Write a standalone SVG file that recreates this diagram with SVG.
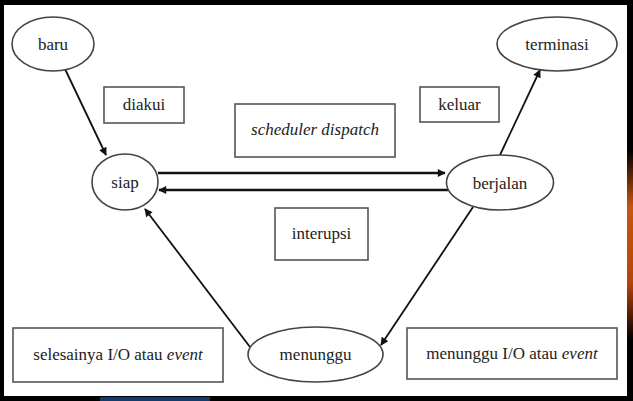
<svg xmlns="http://www.w3.org/2000/svg" width="633" height="401" viewBox="0 0 633 401">
<defs>
<style>
.bg{fill:#000}
.paper{fill:#fff}
.node{fill:#fff;stroke:#444;stroke-width:1.6}
.box{fill:#fff;stroke:#555;stroke-width:1.6}
text{font-family:'Liberation Serif','Times New Roman',Times,serif;font-size:17px;fill:#222;text-anchor:middle}
.it{font-style:italic}
.edge{stroke:#111;stroke-width:1.8;fill:none;marker-end:url(#ah)}
.thick{stroke-width:2.6}
</style>
<marker id="ah" viewBox="0 0 10 10" refX="9" refY="5" markerWidth="10" markerHeight="8" markerUnits="userSpaceOnUse" orient="auto">
<path d="M0,0 L10,5 L0,10 z" fill="#111"/>
</marker>
<linearGradient id="org" x1="0" y1="0" x2="0" y2="1">
<stop offset="0" stop-color="#000"/>
<stop offset="0.3" stop-color="#c8550f"/>
<stop offset="0.7" stop-color="#b8440a"/>
<stop offset="1" stop-color="#000"/>
</linearGradient>
</defs>
<rect class="bg" x="0" y="0" width="633" height="401"/>
<rect x="627" y="150" width="6" height="190" fill="url(#org)"/>
<rect x="100" y="397" width="110" height="4" fill="#123a6a"/>
<rect class="paper" x="4" y="5" width="623" height="391"/>

<g id="connectors">
<line class="edge" x1="65" y1="69" x2="106" y2="155"/>
<line class="edge thick" x1="158" y1="173" x2="445" y2="173"/>
<line class="edge thick" x1="448" y1="190" x2="159" y2="190"/>
<line class="edge" x1="500" y1="155" x2="540" y2="70"/>
<line class="edge" x1="473" y1="207" x2="381" y2="345"/>
<line class="edge" x1="250" y1="347" x2="145" y2="209"/>
</g>

<g font-family="Liberation Serif, serif">
<g id="baru"><ellipse class="node" cx="53" cy="44" rx="41" ry="27"/><text x="53" y="50">baru</text></g>
<g id="terminasi"><ellipse class="node" cx="557" cy="44" rx="60" ry="27"/><text x="557" y="50">terminasi</text></g>
<g id="siap"><ellipse class="node" cx="125" cy="182" rx="33" ry="28"/><text x="125" y="188">siap</text></g>
<g id="berjalan"><ellipse class="node" cx="500" cy="182.5" rx="53.5" ry="27.5"/><text x="500" y="189">berjalan</text></g>
<g id="menunggu"><ellipse class="node" cx="315.5" cy="354.5" rx="67.5" ry="27.5"/><text x="315.5" y="360">menunggu</text></g>

<g id="diakui"><rect class="box" x="104" y="87" width="80" height="36"/><text x="144" y="110">diakui</text></g>
<g id="scheduler"><rect class="box" x="235" y="104" width="160" height="53"/><text class="it" x="315" y="135">scheduler dispatch</text></g>
<g id="keluar"><rect class="box" x="420" y="87" width="79" height="35"/><text x="459.5" y="110">keluar</text></g>
<g id="interupsi"><rect class="box" x="275" y="208" width="93" height="52"/><text x="321.5" y="239">interupsi</text></g>
<g id="selesai"><rect class="box" x="13" y="328" width="210" height="54"/><text x="118" y="360">selesainya I/O atau <tspan class="it">event</tspan></text></g>
<g id="tunggu"><rect class="box" x="407" y="328" width="210" height="51"/><text x="512" y="359">menunggu I/O atau <tspan class="it">event</tspan></text></g>
</g>
</svg>
